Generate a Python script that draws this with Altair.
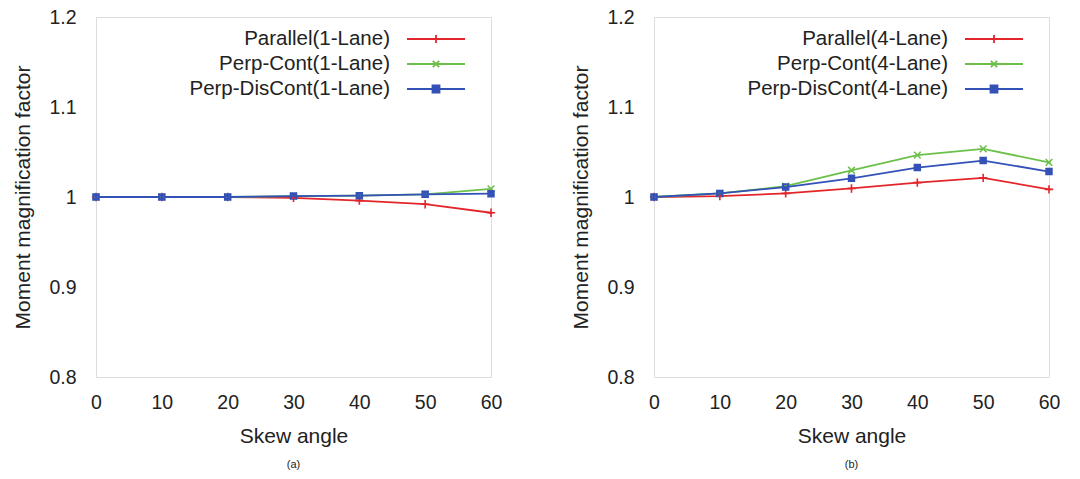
import altair as alt
import pandas as pd

# ---- data ----
skew = [0, 10, 20, 30, 40, 50, 60]

series_a = ["Parallel(1-Lane)", "Perp-Cont(1-Lane)", "Perp-DisCont(1-Lane)"]
parallel_1 = [1.0, 1.0, 1.0, 0.999, 0.996, 0.992, 0.9825]
perp_cont_1 = [1.0, 1.0, 1.0, 1.001, 1.0015, 1.003, 1.009]
perp_discont_1 = [1.0, 1.0, 1.0, 1.001, 1.0015, 1.003, 1.0037]

series_b = ["Parallel(4-Lane)", "Perp-Cont(4-Lane)", "Perp-DisCont(4-Lane)"]
parallel_4 = [1.0, 1.001, 1.004, 1.0095, 1.016, 1.0213, 1.0085]
perp_cont_4 = [1.0, 1.004, 1.012, 1.0297, 1.0465, 1.0535, 1.0385]
perp_discont_4 = [1.0, 1.004, 1.011, 1.0208, 1.0327, 1.0405, 1.0283]

y_ticks = [0.8, 0.9, 1.0, 1.1, 1.2]
x_ticks = [0, 10, 20, 30, 40, 50, 60]
captions = ["(a)", "(b)"]

# ---- styles ----
colors = ["#e3262b", "#6cc04a", "#3451b8"]
marker_paths = [
    "M-1,0L1,0M0,-1L0,1",
    "M-0.8,-0.8L0.8,0.8M-0.8,0.8L0.8,-0.8",
    "M-0.7,-0.7H0.7V0.7H-0.7ZM-0.7,-0.35H0.7M-0.7,0H0.7M-0.7,0.35H0.7",
]
legend_paths = [
    "M-2.9,0L2.9,0M0,-0.4L0,0.4",
    "M-2.9,0L2.9,0M-0.32,-0.32L0.32,0.32M-0.32,0.32L0.32,-0.32",
    "M-2.9,0L2.9,0M-0.35,-0.35H0.35V0.35H-0.35ZM-0.35,-0.17H0.35M-0.35,0H0.35M-0.35,0.17H0.35",
]

FONT = "Liberation Sans"
TEXT = "#222222"
W, H = 395, 360


def panel(names, values, caption):
    rows = []
    for name, vals in zip(names, values):
        for x, y in zip(skew, vals):
            rows.append({"angle": x, "factor": y, "series": name})
    df = pd.DataFrame(rows)

    x_enc = alt.X(
        "angle:Q",
        scale=alt.Scale(domain=[0, 60], nice=False),
        axis=alt.Axis(
            values=x_ticks, title="Skew angle", grid=False, domain=False,
            ticks=False, labelPadding=16, titlePadding=14,
            labelFontSize=19.5, titleFontSize=21, labelFont=FONT, titleFont=FONT,
            labelColor=TEXT, titleColor=TEXT, titleFontWeight="normal",
            labelFlush=False,
        ),
    )
    y_enc = alt.Y(
        "factor:Q",
        scale=alt.Scale(domain=[0.8, 1.2], nice=False, zero=False),
        axis=alt.Axis(
            values=y_ticks, format="~g", title="Moment magnification factor",
            grid=False, domain=False, ticks=False, labelPadding=20,
            titlePadding=15, labelFontSize=19.5, titleFontSize=21,
            labelFont=FONT, titleFont=FONT, labelColor=TEXT, titleColor=TEXT,
            titleFontWeight="normal",
        ),
    )
    color_scale = alt.Scale(domain=names, range=colors)

    series_layers = []
    for name, col, path in zip(names, colors, marker_paths):
        base = alt.Chart(df).transform_filter(alt.datum.series == name)
        series_layers.append(
            base.mark_line(strokeWidth=1.8, color=col).encode(
                x=x_enc, y=y_enc, order=alt.Order("angle:Q"))
        )
        series_layers.append(
            base.mark_point(filled=False, size=70, strokeWidth=1.6, opacity=1,
                            shape=path, color=col)
            .encode(x=x_enc, y=y_enc)
        )
    leg = alt.Legend(
        orient="none", legendX=329, legendY=11, title=None,
        labelAlign="right", labelOffset=alt.ExprRef("-57"), symbolSize=400,
        labelFontSize=20.5, labelFont=FONT, labelColor=TEXT, labelLimit=400,
        rowPadding=3, padding=0, symbolStrokeWidth=1.8,
    )
    legend_layer = alt.Chart(df).mark_point(filled=False, size=1, strokeWidth=1.8, opacity=1).encode(
        x=x_enc, y=y_enc,
        color=alt.Color("series:N", scale=color_scale, legend=leg),
        shape=alt.Shape("series:N", scale=alt.Scale(domain=names, range=legend_paths), legend=leg),
    )
    return alt.layer(*series_layers, legend_layer).properties(
        width=W, height=H,
        title=alt.TitleParams(caption, orient="bottom", fontSize=11, font=FONT,
                              color=TEXT, fontWeight="normal", offset=12),
    )


left = panel(series_a, [parallel_1, perp_cont_1, perp_discont_1], captions[0])
right = panel(series_b, [parallel_4, perp_cont_4, perp_discont_4], captions[1])

chart = alt.hconcat(left, right, spacing=67).resolve_scale(color="independent", shape="independent").properties(
    padding={"left": 12, "top": 6, "right": 5, "bottom": 5}
).configure_view(
    stroke="#8c7f7f", strokeWidth=1.5
).configure(background="white")

chart.save("out.html", embed_options={"renderer": "svg", "actions": False})
